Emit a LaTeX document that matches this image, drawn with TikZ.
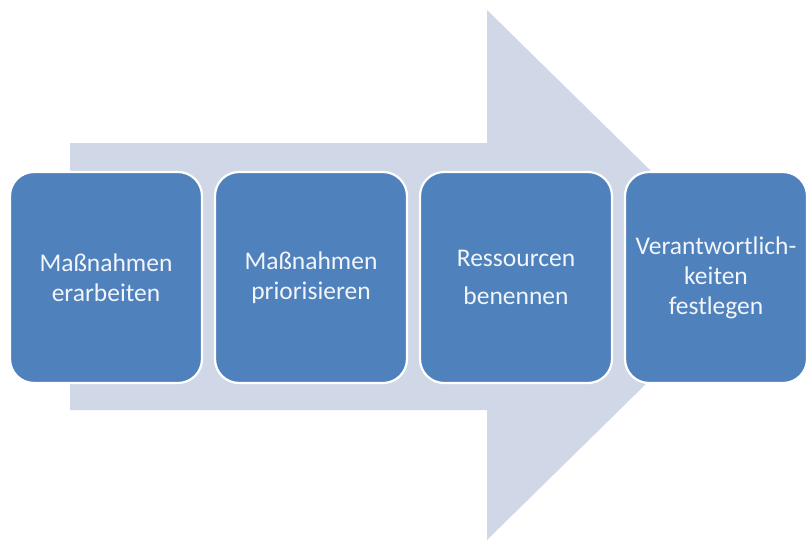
\documentclass[tikz,border=0pt]{standalone}
\usepackage{fontspec}
\setmainfont{Carlito}
\definecolor{arrowfill}{HTML}{D0D8E8}
\definecolor{boxfill}{HTML}{4F81BD}
\definecolor{boxtext}{HTML}{F2F5FA}
\begin{document}
\begin{tikzpicture}[x=1pt,y=-1pt,
  stepbox/.style={draw=white, line width=2.2pt, fill=boxfill, rounded corners=24pt,
    minimum width=192pt, minimum height=211pt, inner sep=0pt, align=center,
    text=boxtext, font=\fontsize{25.5}{30}\selectfont}]
\useasboundingbox (0,0) rectangle (808,541);
\fill[white] (0,0) rectangle (808,541);
% big arrow
\fill[arrowfill] (70,143) -- (487,143) -- (487,10) -- (757,275) -- (487,540) -- (487,410) -- (70,410) -- cycle;
% boxes
\node[stepbox] (b1) at (106,277.5) {Maßnahmen\\erarbeiten};
\node[stepbox] (b2) at (311,277.5) {Maßnahmen\\priorisieren};
\node[stepbox] (b3) at (516,277.5) {Ressourcen\\[8pt]benennen};
\node[stepbox, minimum width=182pt] (b4) at (716,277.5) {Verantwortlich-\\keiten\\festlegen};
\end{tikzpicture}
\end{document}
